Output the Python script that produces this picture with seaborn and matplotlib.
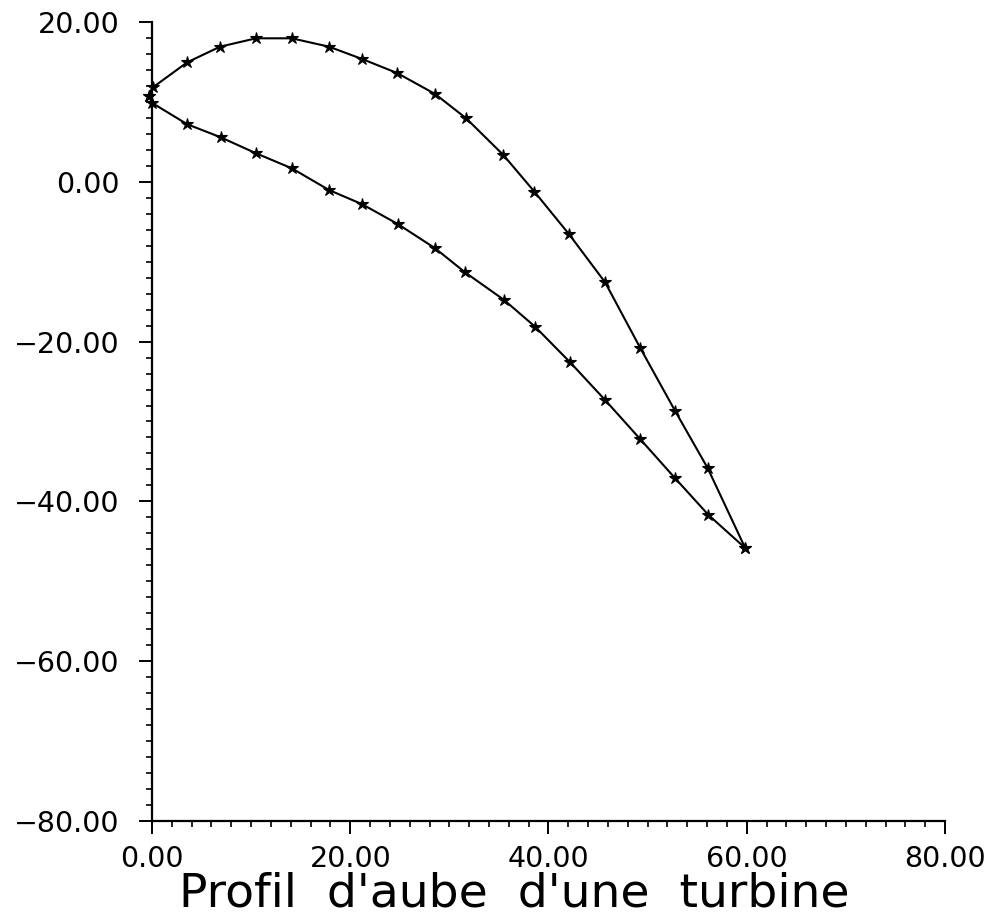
import pandas as pd
import matplotlib
matplotlib.use('Agg')
import matplotlib.pyplot as plt
import seaborn as sns
from matplotlib.ticker import MultipleLocator, FuncFormatter

# profil extrados (face superieure), du bord d'attaque au bord de fuite
x_extrados = [-0.3, 0.13, 3.56, 6.86, 10.49, 14.10, 17.86, 21.19, 24.72, 28.56,
              31.69, 35.45, 38.58, 42.08, 45.71, 49.24, 52.78, 56.07, 59.84]
y_extrados = [10.74, 11.86, 14.96, 16.91, 17.96, 17.96, 16.91, 15.37, 13.62, 10.99,
              7.95, 3.35, -1.24, -6.57, -12.58, -20.76, -28.69, -35.86, -45.83]

# profil intrados (face inferieure)
x_intrados = [-0.3, -0.03, 3.56, 6.93, 10.49, 14.10, 17.86, 21.19, 24.79, 28.56,
              31.58, 35.52, 38.65, 42.18, 45.71, 49.24, 52.78, 56.14, 59.84]
y_intrados = [10.74, 9.90, 7.20, 5.57, 3.57, 1.69, -1.03, -2.80, -5.28, -8.32,
              -11.33, -14.79, -18.14, -22.59, -27.31, -32.19, -37.11, -41.70, -45.83]

titre = "Profil  d'aube  d'une  turbine"

sns.set_style('ticks')
plt.rcParams['font.family'] = ['DejaVu Sans']

fig = plt.figure(figsize=(9.89, 9.21), dpi=100)
ax = fig.add_axes([0.1537, 0.1086, 0.9555 - 0.1537, 0.9761 - 0.1086])

ext = pd.DataFrame({'x': x_extrados, 'y': y_extrados})
intr = pd.DataFrame({'x': x_intrados, 'y': y_intrados})

for d in (ext, intr):
    sns.lineplot(data=d, x='x', y='y', sort=False, ax=ax, color='black',
                 linewidth=1.5, marker='*', markersize=9,
                 markeredgecolor='black', markerfacecolor='black',
                 markeredgewidth=0.8, estimator=None, clip_on=False)

ax.set_xlim(0, 80)
ax.set_ylim(-80, 20)

fmt = FuncFormatter(lambda v, p: f'{v:.2f}'.replace('-', '\u2212'))
ax.xaxis.set_major_locator(MultipleLocator(20))
ax.xaxis.set_minor_locator(MultipleLocator(2))
ax.yaxis.set_major_locator(MultipleLocator(20))
ax.yaxis.set_minor_locator(MultipleLocator(2))
ax.xaxis.set_major_formatter(fmt)
ax.yaxis.set_major_formatter(fmt)

sns.despine(ax=ax)
for s in ('left', 'bottom'):
    ax.spines[s].set_linewidth(1.6)
    ax.spines[s].set_color('black')

ax.tick_params(axis='both', which='major', direction='out', length=9.5,
               width=1.4, colors='black', labelsize=20.5)
ax.tick_params(axis='both', which='minor', direction='out', length=4.5,
               width=1.2, colors='black')
ax.tick_params(axis='y', which='major', pad=14)
ax.tick_params(axis='x', which='major', pad=8)

ax.set_xlabel('')
ax.set_ylabel('')
ax.patch.set_alpha(0)

fig.text(0.52, 0.016, titre, ha='center', va='baseline', fontsize=34,
         color='black')

fig.savefig('out.png', dpi=100, facecolor='white')
